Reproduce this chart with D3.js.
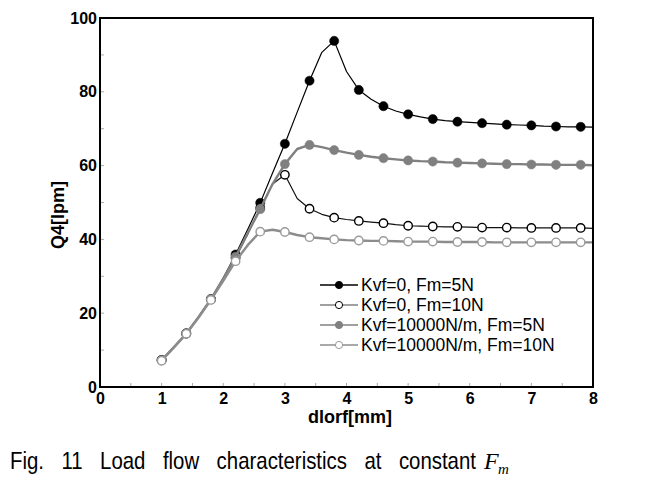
<!DOCTYPE html>
<html>
<head>
<meta charset="utf-8">
<script src="https://cdn.jsdelivr.net/npm/d3@7"></script>
<style>
  html, body { margin: 0; padding: 0; background: #fff; }
  svg { display: block; }
</style>
</head>
<body>
<svg id="chart" width="653" height="498"></svg>
<script>
// ---------- data ----------
const xValues = [1.0,1.2,1.4,1.6,1.8,2.0,2.2,2.4,2.6,2.8,3.0,3.2,3.4,3.6,3.8,4.0,4.2,4.4,4.6,4.8,5.0,5.2,5.4,5.6,5.8,6.0,6.2,6.4,6.6,6.8,7.0,7.2,7.4,7.6,7.8,8.0];
const markerX = [1.0,1.4,1.8,2.2,2.6,3.0,3.4,3.8,4.2,4.6,5.0,5.4,5.8,6.2,6.6,7.0,7.4,7.8];

const kvf0Fm5 = [7.3,10.8,14.5,19.0,23.8,29.5,35.9,42.8,49.9,58.0,65.9,74.5,83.0,90.7,93.8,85.5,80.5,78.0,76.1,74.8,73.9,73.2,72.6,72.2,71.9,71.7,71.5,71.3,71.1,71.0,70.9,70.7,70.6,70.5,70.5,70.4];
const kvf0Fm10 = [7.3,10.8,14.5,19.0,23.8,29.2,35.0,41.5,48.5,55.0,57.5,51.1,48.3,46.8,45.9,45.4,45.0,44.7,44.4,44.0,43.7,43.6,43.5,43.4,43.4,43.3,43.2,43.2,43.2,43.1,43.1,43.1,43.1,43.1,43.1,43.0];
const kvf10000Fm5 = [7.3,10.8,14.5,19.0,23.8,29.4,35.3,41.8,48.2,55.0,60.4,64.5,65.6,65.0,64.2,63.5,62.9,62.4,62.0,61.7,61.4,61.2,61.1,60.9,60.8,60.7,60.6,60.5,60.4,60.4,60.3,60.3,60.2,60.2,60.2,60.1];
const kvf10000Fm10 = [7.1,10.7,14.4,18.8,23.6,28.8,34.1,38.5,42.1,42.6,42.0,41.2,40.6,40.3,40.0,39.8,39.7,39.6,39.6,39.5,39.4,39.4,39.4,39.3,39.3,39.3,39.3,39.2,39.2,39.2,39.2,39.2,39.2,39.2,39.2,39.2];

const seriesNames = ["Kvf=0, Fm=5N","Kvf=0, Fm=10N","Kvf=10000N/m, Fm=5N","Kvf=10000N/m, Fm=10N"];
const xTicks = [0,1,2,3,4,5,6,7,8];
const yTicks = [0,20,40,60,80,100];
const xTitle = "dlorf[mm]";
const yTitle = "Q4[lpm]";
const captionWords = ["Fig.","11","Load","flow","characteristics","at","constant"];

(function () {
// ---------- styles ----------
const styles = [
  {line:"#000", lw:1.2, fill:"#000", stroke:"#000", legLine:"#000"},
  {line:"#111", lw:1.2, fill:"#fff", stroke:"#000", legLine:"#808080"},
  {line:"#808080", lw:2.4, fill:"#808080", stroke:"#808080", legLine:"#808080"},
  {line:"#8c8c8c", lw:2.4, fill:"#fff", stroke:"#9a9a9a", legLine:"#8c8c8c"}
];
const seriesValues = [kvf0Fm5, kvf0Fm10, kvf10000Fm5, kvf10000Fm10];

const svg = d3.select("#chart");
const pL = 100, pR = 593, pT = 18, pB = 387;
const x = d3.scaleLinear().domain([0,8]).range([pL,pR]);
const y = d3.scaleLinear().domain([0,100]).range([pB,pT]);

// minor inner ticks
const g0 = svg.append("g");
d3.range(0,100.01,10).forEach(v => {
  g0.append("line").attr("x1",pL).attr("x2",pL+4).attr("y1",y(v)).attr("y2",y(v)).attr("stroke","#aaa").attr("stroke-width",1);
});
d3.range(0,8.01,0.5).forEach(v => {
  g0.append("line").attr("x1",x(v)).attr("x2",x(v)).attr("y1",pB).attr("y2",pB-4).attr("stroke","#aaa").attr("stroke-width",1);
});

// series
const line = d3.line().x(d=>x(d[0])).y(d=>y(d[1]));
seriesValues.forEach((vals,i) => {
  const st = styles[i];
  const pts = xValues.map((xv,j)=>[xv, vals[j]]);
  svg.append("path").datum(pts).attr("d",line).attr("fill","none")
    .attr("stroke",st.line).attr("stroke-width",st.lw).attr("stroke-linejoin","round");
  const mpts = pts.filter(p => markerX.some(m => Math.abs(m-p[0])<1e-6));
  svg.append("g").selectAll("circle").data(mpts).join("circle")
    .attr("cx",d=>x(d[0])).attr("cy",d=>y(d[1])).attr("r", st.fill==="#fff"?4.2:4.6)
    .attr("fill",st.fill).attr("stroke",st.stroke).attr("stroke-width", st.fill==="#fff"?1.4:0.5);
});

// frame
svg.append("rect").attr("x",pL).attr("y",pT).attr("width",pR-pL).attr("height",pB-pT)
  .attr("fill","none").attr("stroke","#000").attr("stroke-width",2);

// axes
const xAxis = svg.append("g").attr("transform",`translate(0,${pB})`)
  .call(d3.axisBottom(x).tickValues(xTicks).tickSize(0).tickPadding(6).tickFormat(d3.format("d")));
const yAxis = svg.append("g").attr("transform",`translate(${pL},0)`)
  .call(d3.axisLeft(y).tickValues(yTicks).tickSize(0).tickPadding(3).tickFormat(d3.format("d")));
[xAxis,yAxis].forEach(a => {
  a.select(".domain").remove();
  a.selectAll("text").attr("font-family","'Liberation Sans', Arial, sans-serif")
    .attr("font-weight","bold").attr("font-size","16px").attr("fill","#000");
});

// axis titles
svg.append("text").attr("x",350).attr("y",423).attr("text-anchor","middle")
  .attr("font-family","'Liberation Sans', Arial, sans-serif").attr("font-weight","bold").attr("font-size","18px")
  .text(xTitle);
svg.append("text").attr("transform","translate(64,215) rotate(-90)").attr("text-anchor","middle")
  .attr("font-family","'Liberation Sans', Arial, sans-serif").attr("font-weight","bold").attr("font-size","18px")
  .text(yTitle);

// legend
const leg = svg.append("g");
const legY = [285,305,325,345];
seriesNames.forEach((name,i) => {
  const st = styles[i];
  leg.append("line").attr("x1",320).attr("x2",358).attr("y1",legY[i]).attr("y2",legY[i])
    .attr("stroke",st.legLine).attr("stroke-width",1.5);
  leg.append("circle").attr("cx",339).attr("cy",legY[i]).attr("r",3.6)
    .attr("fill",st.fill).attr("stroke",st.stroke).attr("stroke-width",1);
  leg.append("text").attr("x",361).attr("y",legY[i]).attr("dy","0.36em")
    .attr("font-family","'Liberation Sans', Arial, sans-serif").attr("font-size","17.5px").text(name);
});

// caption (condensed glyphs, justified word spacing)
const cap = svg.append("g");
const capY = 469, capL = 10, capR = 476, sx = 0.85;
const wg = captionWords.map(w => {
  const g = cap.append("g");
  g.append("text").attr("x",0).attr("y",0)
    .attr("font-family","'Liberation Sans', Arial, sans-serif").attr("font-size","24px").text(w);
  return g;
});
const widths = wg.map(g => g.select("text").node().getComputedTextLength() * sx);
const gap = (capR - capL - d3.sum(widths)) / (wg.length - 1);
let cx = capL;
wg.forEach((g,i) => { g.attr("transform",`translate(${cx},${capY}) scale(${sx},1)`); cx += widths[i] + gap; });
cap.append("text").attr("x",484).attr("y",capY)
  .attr("font-family","'Liberation Serif', 'DejaVu Serif', serif").attr("font-style","italic").attr("font-size","24px").text("F");
cap.append("text").attr("x",498).attr("y",capY+5)
  .attr("font-family","'Liberation Serif', 'DejaVu Serif', serif").attr("font-style","italic").attr("font-size","15px").text("m");
})();
</script>
</body>
</html>
